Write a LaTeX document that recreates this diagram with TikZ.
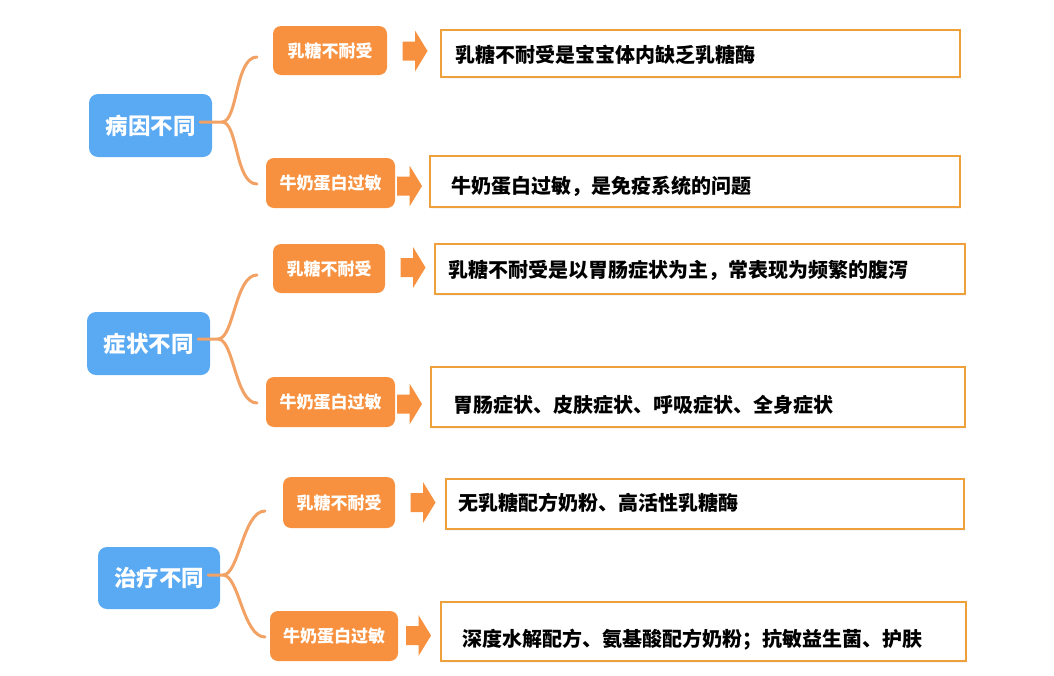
\documentclass[tikz,border=0pt]{standalone}
\usepackage{fontspec}
\setmainfont{Noto Sans CJK SC}
\usetikzlibrary{calc,shadows}
\definecolor{bluefill}{HTML}{59A9F3}
\definecolor{orgfill}{HTML}{F7913F}
\definecolor{orgline}{HTML}{EEA13A}
\definecolor{curvec}{HTML}{F2A265}
\begin{document}
\begin{tikzpicture}[x=1pt,y=-1pt,
  cause/.style={fill=bluefill, rounded corners=9pt, text=white, inner sep=0pt,
    font=\bfseries\fontsize{22.5}{24}\selectfont, minimum width=123pt, minimum height=63pt},
  kind/.style={fill=orgfill, rounded corners=8pt, text=white, inner sep=0pt,
    font=\bfseries\fontsize{17}{18}\selectfont, minimum height=50pt},
  descbox/.style={draw=orgline, line width=2pt, fill=white, inner sep=0pt,
    drop shadow={opacity=0.08, shadow xshift=1pt, shadow yshift=-1.5pt}},
  desc/.style={anchor=west, inner sep=0pt, font=\bfseries\fontsize{20}{22}\selectfont},
  branch/.style={draw=curvec, line width=3pt, line cap=round},
  barrow/.pic={\fill[orgfill] (-12.5,-9.5) -- (0,-9.5) -- (0,-20.5) -- (12.5,0)
     -- (0,20.5) -- (0,9.5) -- (-12.5,9.5) -- cycle;}
]
\useasboundingbox (0,0) rectangle (1054,675);

% description boxes
\node[descbox, minimum width=519pt, minimum height=47pt] (r11) at (700.5,53.5) {};
\node[descbox, minimum width=530pt, minimum height=51pt] (r12) at (695,181.5) {};
\node[descbox, minimum width=530pt, minimum height=50pt] (r21) at (700,269) {};
\node[descbox, minimum width=534pt, minimum height=60pt] (r22) at (698,397) {};
\node[descbox, minimum width=518pt, minimum height=50pt] (r31) at (705,504) {};
\node[descbox, minimum width=525pt, minimum height=59pt] (r32) at (703.5,631.5) {};

\node[desc] (t11) at (455,55) {乳糖不耐受是宝宝体内缺乏乳糖酶};
\node[desc] (t12) at (451,186) {牛奶蛋白过敏，是免疫系统的问题};
\node[desc] (t21) at (448,270) {乳糖不耐受是以胃肠症状为主，常表现为频繁的腹泻};
\node[desc] (t22) at (453,405) {胃肠症状、皮肤症状、呼吸症状、全身症状};
\node[desc] (t31) at (458,503) {无乳糖配方奶粉、高活性乳糖酶};
\node[desc] (t32) at (462,640) {深度水解配方、氨基酸配方奶粉；抗敏益生菌、护肤};

% block arrows
\pic at (415,51) {barrow};
\pic at (409.5,186) {barrow};
\pic at (413,267.5) {barrow};
\pic at (409.5,404) {barrow};
\pic at (423,502.5) {barrow};
\pic at (418.5,635.5) {barrow};

% orange category boxes
\node[kind, minimum width=114pt, minimum height=49pt] (o11) at (330,50.5) {乳糖不耐受};
\node[kind, minimum width=129pt] (o12) at (330.5,183) {牛奶蛋白过敏};
\node[kind, minimum width=112pt, minimum height=49pt] (o21) at (329,268.5) {乳糖不耐受};
\node[kind, minimum width=129pt] (o22) at (330.5,402) {牛奶蛋白过敏};
\node[kind, minimum width=112pt, minimum height=51pt] (o31) at (339,502.5) {乳糖不耐受};
\node[kind, minimum width=128pt] (o32) at (334,636) {牛奶蛋白过敏};

% branch points
\coordinate (j1) at (222,122);
\coordinate (e11) at (257,57);
\coordinate (e12) at (257,184);
\coordinate (j2) at (218,339);
\coordinate (e21) at (257,275);
\coordinate (e22) at (257,403);
\coordinate (j3) at (223,575);
\coordinate (e31) at (265,511);
\coordinate (e32) at (265,637);

\node[cause] (b1) at (150.5,125.5) {病因不同};
\node[cause] (b2) at (148.5,343.5) {症状不同};
\node[cause, minimum width=122pt, minimum height=62pt] (b3) at (159,578) {治疗不同};

\foreach \b/\j/\u/\d in {b1/j1/e11/e12, b2/j2/e21/e22, b3/j3/e31/e32}{
  \draw[branch] ($(\b.east |- \j)+(-12,0)$) -- (\j)
     .. controls ($(\j)+(16,0)$) and ($(\u)+(-22,0)$) .. (\u);
  \draw[branch] (\j)
     .. controls ($(\j)+(16,0)$) and ($(\d)+(-22,0)$) .. (\d);
}
\end{tikzpicture}
\end{document}
